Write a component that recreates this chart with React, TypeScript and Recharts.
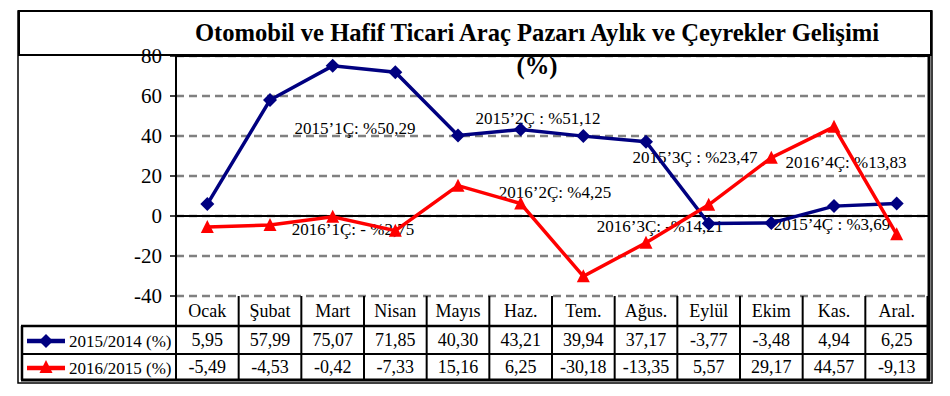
import React from 'react';
import { LineChart, Line, XAxis, YAxis, CartesianGrid, ReferenceLine } from 'recharts';

// ---- data ----
const months = ['Ocak', 'Şubat', 'Mart', 'Nisan', 'Mayıs', 'Haz.', 'Tem.', 'Ağus.', 'Eylül', 'Ekim', 'Kas.', 'Aral.'];
const series2015 = [5.95, 57.99, 75.07, 71.85, 40.3, 43.21, 39.94, 37.17, -3.77, -3.48, 4.94, 6.25];
const series2016 = [-5.49, -4.53, -0.42, -7.33, 15.16, 6.25, -30.18, -13.35, 5.57, 29.17, 44.57, -9.13];
const seriesNames = ['2015/2014 (%)', '2016/2015 (%)'];
const yTicks = [-40, -20, 0, 20, 40, 60, 80];
const titleText = 'Otomobil ve Hafif Ticari Araç Pazarı Aylık ve Çeyrekler Gelişimi';
const subTitleText = '(%)';
const quarterNotes = [
  '2015’1Ç: %50,29',
  '2015’2Ç : %51,12',
  '2015’3Ç : %23,47',
  '2016’4Ç: %13,83',
  '2016’2Ç: %4,25',
  '2016’1Ç: - %2,75',
  '2016’3Ç: -%14,21',
  '2015’4Ç : %3,69',
];

// ---- layout (not data) ----
const notePos = [
  [355, 128], [538, 118], [695, 157], [846, 162],
  [555, 192], [353, 229], [660, 226], [832, 224],
];
const FONT = "'Liberation Serif'";
const NAVY = '#000080';
const RED = '#FF0000';
const PLOT_L = 176;
const PLOT_R = 928;
const PLOT_T = 56;
const TABLE_TOP = 296;
const ROW1 = 326;
const ROW2 = 354;
const TABLE_BOTTOM = 380;
const HALF = (PLOT_R - PLOT_L) / 24;

const data = months.map((m, i) => ({ month: m, a: series2015[i], b: series2016[i] }));
const fmt = (v: number) => v.toFixed(2).replace('.', ',');

const Diamond = (props: any) => {
  const { cx, cy } = props;
  if (cx == null || cy == null) return null;
  const r = 7;
  return <path d={`M${cx},${cy - r}L${cx + r},${cy}L${cx},${cy + r}L${cx - r},${cy}Z`} fill={NAVY} />;
};
const Triangle = (props: any) => {
  const { cx, cy } = props;
  if (cx == null || cy == null) return null;
  const w = 6.5;
  return <path d={`M${cx},${cy - 7}L${cx + w},${cy + 6}L${cx - w},${cy + 6}Z`} fill={RED} />;
};

const YTick = (props: any) => {
  const { y, payload } = props;
  return (
    <text x={PLOT_L - 14} y={y + 7} textAnchor="end" fontFamily={FONT} fontSize={21} fill="#000">
      {payload.value}
    </text>
  );
};

const TableTick = (props: any) => {
  const { x, payload } = props;
  const i = payload.index ?? props.index;
  const last = i === months.length - 1;
  return (
    <g>
      {i === 0 && <line x1={x - HALF} x2={x - HALF} y1={TABLE_TOP} y2={TABLE_BOTTOM} stroke="#000" strokeWidth={2} />}
      <line x1={x + HALF} x2={x + HALF} y1={TABLE_TOP} y2={TABLE_BOTTOM} stroke="#000" strokeWidth={last ? 3 : 2} />
      <text x={x} y={(TABLE_TOP + ROW1) / 2 + 6} textAnchor="middle" fontFamily={FONT} fontSize={18} fill="#000">{payload.value}</text>
      <text x={x} y={(ROW1 + ROW2) / 2 + 6} textAnchor="middle" fontFamily={FONT} fontSize={18} fill="#000">{fmt(series2015[i])}</text>
      <text x={x} y={(ROW2 + TABLE_BOTTOM) / 2 + 6} textAnchor="middle" fontFamily={FONT} fontSize={18} fill="#000">{fmt(series2016[i])}</text>
    </g>
  );
};

export default function App() {
  return (
    <div style={{ position: 'absolute', left: 0, top: 0, width: 950, height: 396, background: '#fff' }}>
      <LineChart
        width={950}
        height={396}
        data={data}
        margin={{ top: PLOT_T, right: 950 - PLOT_R, bottom: 15, left: PLOT_L - 50 }}
      >
        {/* outer frame and title box */}
        <rect x={18} y={11} width={914} height={372} fill="none" stroke="#000" strokeWidth={1.5} />
        <rect x={19} y={11} width={912} height={44} fill="none" stroke="#000" strokeWidth={2} />
        <text x={537} y={41} textAnchor="middle" fontFamily={FONT} fontWeight="bold" fontSize={24.6} fill="#000">{titleText}</text>
        <CartesianGrid vertical={false} stroke="#808080" strokeWidth={2.5} strokeDasharray="8 5" />
        <XAxis
          dataKey="month"
          height={85}
          interval={0}
          axisLine={false}
          tickLine={false}
          padding={{ left: HALF, right: HALF }}
          tick={<TableTick />}
        />
        <YAxis
          width={50}
          domain={[-40, 80]}
          ticks={yTicks}
          interval={0}
          tickSize={6}
          axisLine={{ stroke: '#000', strokeWidth: 2 }}
          tickLine={{ stroke: '#000', strokeWidth: 1.5 }}
          tick={<YTick />}
        />
        <ReferenceLine y={0} stroke="#000" strokeWidth={2} />
        <ReferenceLine y={80} stroke="#000" strokeWidth={2} />
        {/* plot right border */}
        <line x1={PLOT_R + 1} x2={PLOT_R + 1} y1={55} y2={TABLE_BOTTOM + 1} stroke="#000" strokeWidth={3} />
        {/* table horizontal borders + legend cells */}
        <line x1={21} x2={PLOT_R} y1={ROW1} y2={ROW1} stroke="#000" strokeWidth={2.5} />
        <line x1={21} x2={PLOT_R} y1={ROW2} y2={ROW2} stroke="#000" strokeWidth={2} />
        <line x1={21} x2={PLOT_R + 2} y1={TABLE_BOTTOM} y2={TABLE_BOTTOM} stroke="#000" strokeWidth={3} />
        <line x1={22} x2={22} y1={ROW1} y2={TABLE_BOTTOM} stroke="#000" strokeWidth={2.5} />
        <line x1={27} x2={65} y1={(ROW1 + ROW2) / 2 + 1} y2={(ROW1 + ROW2) / 2 + 1} stroke={NAVY} strokeWidth={4.5} />
        <Diamond cx={46} cy={(ROW1 + ROW2) / 2 + 1} />
        <text x={69} y={(ROW1 + ROW2) / 2 + 7} fontFamily={FONT} fontSize={17} fill="#000">{seriesNames[0]}</text>
        <line x1={27} x2={65} y1={(ROW2 + TABLE_BOTTOM) / 2 + 1} y2={(ROW2 + TABLE_BOTTOM) / 2 + 1} stroke={RED} strokeWidth={4.5} />
        <Triangle cx={46} cy={(ROW2 + TABLE_BOTTOM) / 2} />
        <text x={69} y={(ROW2 + TABLE_BOTTOM) / 2 + 7} fontFamily={FONT} fontSize={17} fill="#000">{seriesNames[1]}</text>
        <Line
          type="linear"
          dataKey="a"
          name={seriesNames[0]}
          stroke={NAVY}
          strokeWidth={3.5}
          dot={<Diamond />}
          activeDot={false}
          isAnimationActive={false}
        />
        <Line
          type="linear"
          dataKey="b"
          name={seriesNames[1]}
          stroke={RED}
          strokeWidth={3.5}
          dot={<Triangle />}
          activeDot={false}
          isAnimationActive={false}
        />
        <text x={537} y={74} textAnchor="middle" fontFamily={FONT} fontWeight="bold" fontSize={24.6} fill="#000">{subTitleText}</text>
        {quarterNotes.map((t, i) => (
          <text key={i} x={notePos[i][0]} y={notePos[i][1] + 6} textAnchor="middle" fontFamily={FONT} fontSize={17} fill="#000">{t}</text>
        ))}
      </LineChart>
    </div>
  );
}
